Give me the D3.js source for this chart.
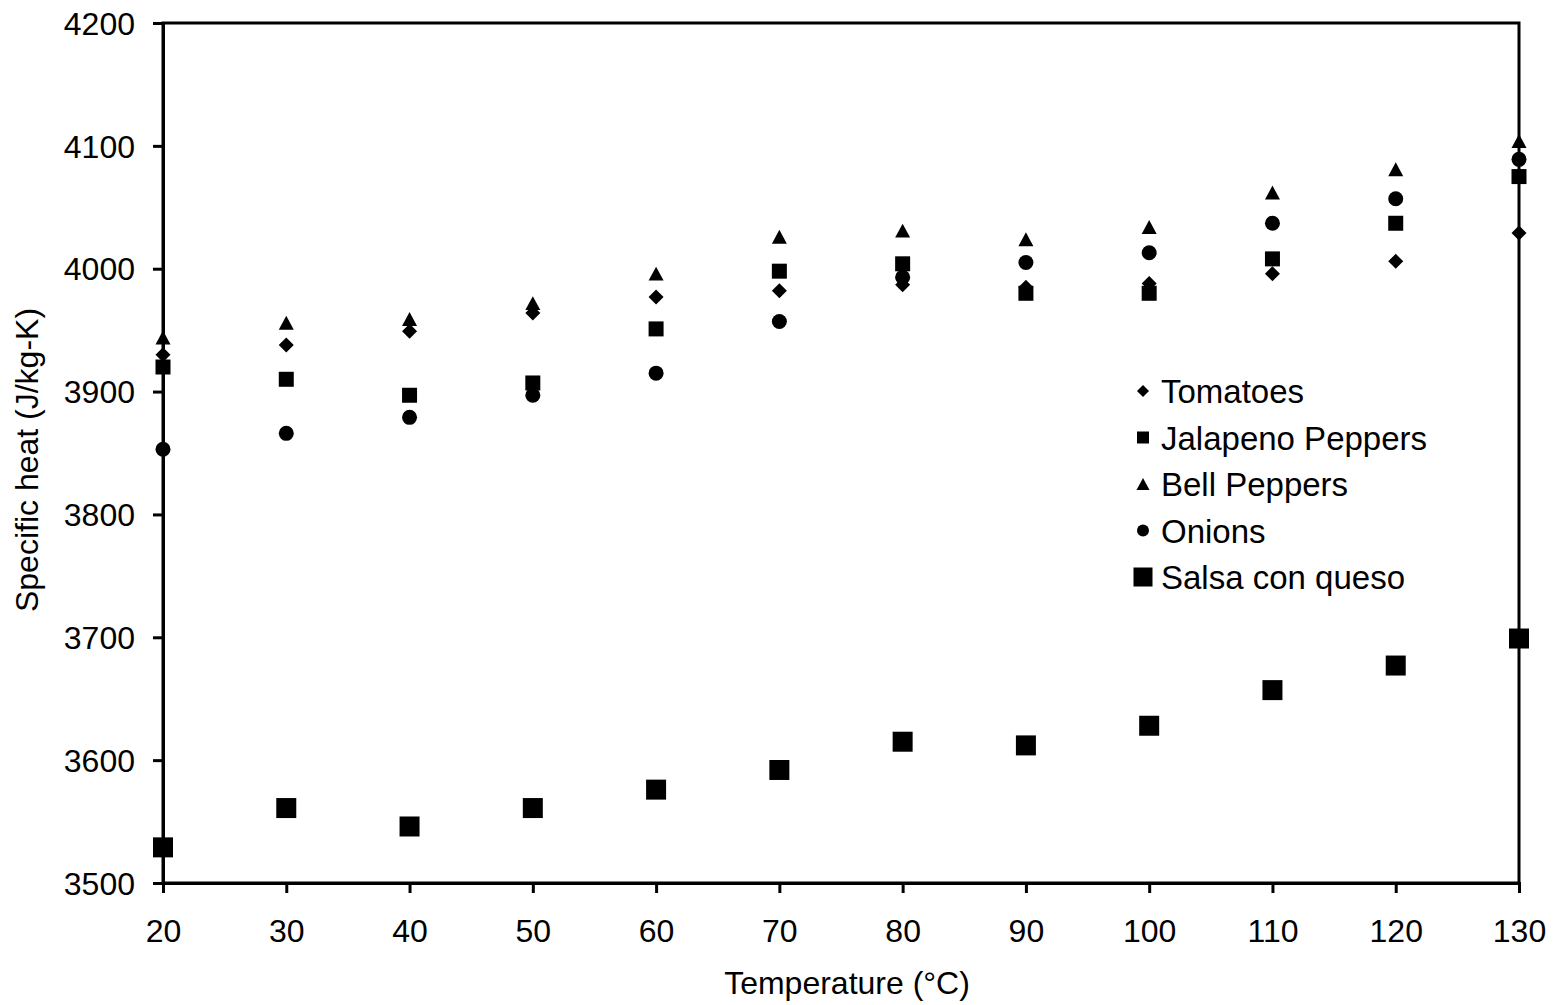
<!DOCTYPE html>
<html>
<head>
<meta charset="utf-8">
<script src="https://cdn.jsdelivr.net/npm/d3@7"></script>
<style>
  html, body { margin: 0; padding: 0; background: #fff; }
  svg text { font-family: "Liberation Sans", Arial, sans-serif; fill: #000; }
</style>
</head>
<body>
<svg id="chart" width="1558" height="1005"></svg>
<script>
// Specific heat of salsa ingredients vs. temperature
const temperatures = [20, 30, 40, 50, 60, 70, 80, 90, 100, 110, 120, 130];
const tomatoes  = [3930, 3938, 3949, 3964, 3977, 3982, 3987, 3985, 3988, 3996, 4006, 4029];
const jalapeno  = [3920, 3910, 3897, 3907, 3951, 3998, 4004, 3980, 3980, 4008, 4037, 4075];
const bell      = [3944, 3956, 3959, 3972, 3996, 4026, 4031, 4024, 4034, 4062, 4081, 4104];
const onions    = [3853, 3866, 3879, 3897, 3915, 3957, 3993, 4005, 4013, 4037, 4057, 4089];
const salsa     = [3529, 3561, 3546, 3561, 3576, 3592, 3615, 3612, 3628, 3657, 3677, 3699];
const seriesNames = ["Tomatoes", "Jalapeno Peppers", "Bell Peppers", "Onions", "Salsa con queso"];
const xTicks = [20, 30, 40, 50, 60, 70, 80, 90, 100, 110, 120, 130];
const yTicks = [3500, 3600, 3700, 3800, 3900, 4000, 4100, 4200];
const xTitle = "Temperature (°C)";
const yTitle = "Specific heat (J/kg-K)";

// Marker shapes; the size argument is the marker's full width in pixels.
const diamond = { draw(ctx, w) { const r = w / 2; ctx.moveTo(0, -r); ctx.lineTo(r, 0); ctx.lineTo(0, r); ctx.lineTo(-r, 0); ctx.closePath(); } };
const square  = { draw(ctx, w) { const r = w / 2; ctx.rect(-r, -r, w, w); } };
const triangle = { draw(ctx, w) { const r = w / 2, h = w * 0.93 / 2; ctx.moveTo(0, -h); ctx.lineTo(r, h); ctx.lineTo(-r, h); ctx.closePath(); } };
const circle  = { draw(ctx, w) { const r = w / 2; ctx.moveTo(r, 0); ctx.arc(0, 0, r, 0, 2 * Math.PI); } };

const series = [
  { name: seriesNames[0], values: tomatoes, type: diamond,  size: 15, legendSize: 12 },
  { name: seriesNames[1], values: jalapeno, type: square,   size: 15, legendSize: 12 },
  { name: seriesNames[2], values: bell,     type: triangle, size: 15, legendSize: 13 },
  { name: seriesNames[3], values: onions,   type: circle,   size: 15, legendSize: 12 },
  { name: seriesNames[4], values: salsa,    type: square,   size: 20, legendSize: 19 }
];

const svg = d3.select("#chart");
const plotLeft = 163, plotRight = 1519, plotTop = 23, plotBottom = 883;

const x = d3.scaleLinear().domain([20, 130]).range([plotLeft, plotRight]);
const y = d3.scaleLinear().domain([3500, 4200]).range([plotBottom, plotTop]);

// Plot-area frame
svg.append("rect")
  .attr("x", plotLeft).attr("y", plotTop)
  .attr("width", plotRight - plotLeft).attr("height", plotBottom - plotTop)
  .attr("fill", "none").attr("stroke", "#000").attr("stroke-width", 3);

// Y axis
const yAxis = svg.append("g")
  .attr("transform", `translate(${plotLeft},0)`)
  .call(d3.axisLeft(y).tickValues(yTicks).tickSize(10).tickPadding(18).tickFormat(d3.format("d")));
yAxis.select(".domain").attr("stroke-width", 3);
yAxis.selectAll(".tick line").attr("stroke-width", 3);
yAxis.selectAll(".tick text").attr("font-size", 32).attr("dy", "0.35em");

// X axis
const xAxis = svg.append("g")
  .attr("transform", `translate(0,${plotBottom})`)
  .call(d3.axisBottom(x).tickValues(xTicks).tickSize(10).tickFormat(d3.format("d")));
xAxis.select(".domain").attr("stroke-width", 3);
xAxis.selectAll(".tick line").attr("stroke-width", 3);
xAxis.selectAll(".tick text").attr("font-size", 32).attr("y", 59).attr("dy", null);

// Axis titles
svg.append("text")
  .attr("x", (plotLeft + plotRight) / 2 + 6).attr("y", 994)
  .attr("text-anchor", "middle").attr("font-size", 32)
  .text(xTitle);

svg.append("text")
  .attr("transform", `translate(38,${(plotTop + plotBottom) / 2 + 7}) rotate(-90)`)
  .attr("text-anchor", "middle").attr("font-size", 32)
  .text(yTitle);

// Data markers
const sym = d3.symbol();
series.forEach(s => {
  svg.append("g").selectAll("path")
    .data(s.values.map((v, i) => ({ t: temperatures[i], v })))
    .join("path")
    .attr("transform", d => `translate(${x(d.t)},${y(d.v)})`)
    .attr("d", sym.type(s.type).size(s.size)())
    .attr("fill", "#000");
});

// Legend
const legend = svg.append("g").attr("transform", "translate(1143,391)");
series.forEach((s, i) => {
  const row = legend.append("g").attr("transform", `translate(0,${i * 46.5})`);
  row.append("path").attr("d", d3.symbol().type(s.type).size(s.legendSize)()).attr("fill", "#000");
  row.append("text").attr("x", 18).attr("y", 12).attr("font-size", 33).text(s.name);
});
</script>
</body>
</html>
